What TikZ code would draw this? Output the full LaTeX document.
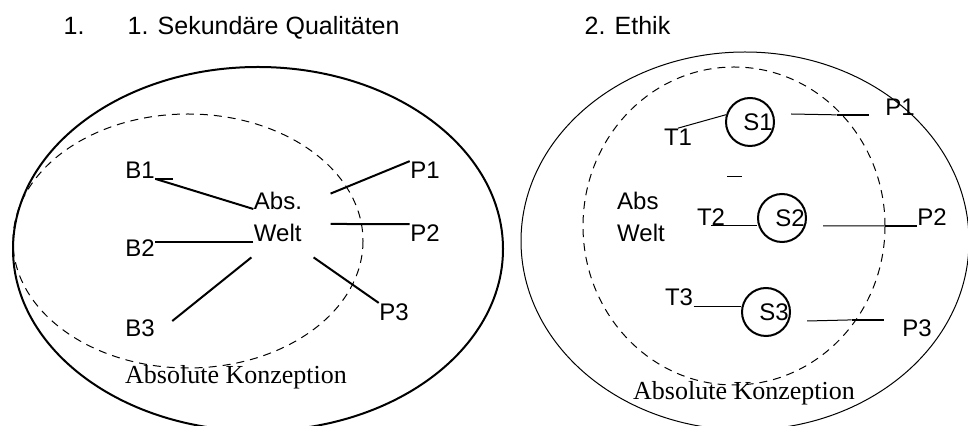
\documentclass[tikz,border=0pt]{standalone}
\usepackage{fontspec}
\setmainfont{Liberation Sans}
\newfontfamily\konzfont{Liberation Serif}
\usetikzlibrary{positioning}

\begin{document}
\begin{tikzpicture}[x=0.5pt, y=-0.5pt, semithick,
    lbl/.style={inner sep=0pt, font=\fontsize{12}{16}\selectfont},
    titel/.style={inner sep=0pt, anchor=base west, font=\fontsize{12.5}{16}\selectfont},
    konz/.style={inner sep=0pt, font=\konzfont\fontsize{13}{16}\selectfont},
    fat/.style={line width=1pt},
    fine/.style={line width=0.5pt},
    dashring/.style={line width=0.5pt, dash pattern=on 4pt off 3pt},
    sk/.style={circle, draw, line width=1pt, minimum size=24pt, inner sep=0pt}]
    \useasboundingbox (0,0) rectangle (968,426);
    \clip (0,0) rectangle (968,426);

    % --- TITLES ---
    \node[titel] (nr)  at (63,35)  {1.};
    \node[titel] (sek) at (127,35) {1. Sekundäre Qualitäten};
    \node[titel] (eth) at (584,35) {2. Ethik};

    % --- LEFT: Sekundaere Qualitaeten ---
    \draw[fat] (258,249) ellipse [x radius=245, y radius=182];
    \draw[dashring] (188,241) ellipse [x radius=175, y radius=127];

    \node[lbl, align=left] (aw) at (278,217) {Abs.\\Welt};
    \node[lbl] (b1)  at (140,170) {B1};
    \node[lbl] (b2)  at (140,248) {B2};
    \node[lbl] (b3)  at (140,328) {B3};
    \node[lbl] (pl1) at (425,170) {P1};
    \node[lbl] (pl2) at (425,233) {P2};
    \node[lbl] (pl3) at (394,312) {P3};
    \node[konz] (kl) at (236,377) {Absolute Konzeption};

    \draw[fat] (b1.south east) -- (aw.162);
    \draw[fat] (b1.south east) -- ++(18,0);
    \draw[fat] (aw.south west) -- (aw.south west -| b2.east);
    \draw[fat] ([shift={(17,-7)}]b3.east) -- ([shift={(-2,15)}]aw.south west);
    \draw[fat] ([shift={(28,2)}]aw.north east) -- (pl1.north west);
    \draw[fat] ([shift={(28,7)}]aw.east) -- (pl2.north west);
    \draw[fat] ([shift={(11,15)}]aw.south east) -- (pl3.north west);

    % --- RIGHT: Ethik ---
    \draw[fine] (745,241) ellipse [x radius=224, y radius=189];
    \draw[dashring] (734,226) ellipse [x radius=151, y radius=159];

    \node[sk, label={[lbl, xshift=4pt]center:S1}] (s1) at (750,122) {};
    \node[sk, label={[lbl, xshift=4pt]center:S2}] (s2) at (782,218) {};
    \node[sk, label={[lbl, xshift=4pt]center:S3}] (s3) at (766,312) {};
    \node[lbl, align=left] (awr) at (641,217) {Abs\\Welt};
    \node[lbl] (t1)  at (678,137) {T1};
    \node[lbl] (t2)  at (711,217) {T2};
    \node[lbl] (t3)  at (679,297) {T3};
    \node[lbl] (pr1) at (900,107) {P1};
    \node[lbl] (pr2) at (932,217) {P2};
    \node[lbl] (pr3) at (917,328) {P3};
    \node[konz] (kr) at (744,393) {Absolute Konzeption};

    \draw[fine] (t1.north) -- (s1.163);
    \draw[fine] (t2.south) -- (t2.south -| s2.west);
    \draw[fine] (t3.south east) -- (t3.south east -| s3.west);
    \draw[fine] (727,177) -- ++(15,0); % stray mark

    \draw[fine] ([shift={(16,-8)}]s1.east) -- ([shift={(-48,-1)}]pr1.south west);
    \draw[fat]  ([shift={(-48,-1)}]pr1.south west) -- ([shift={(-16,-1)}]pr1.south west);
    \draw[fine] ([shift={(16,8)}]s2.east) -- ([shift={(-32,0)}]pr2.south west);
    \draw[fat]  ([shift={(-32,0)}]pr2.south west) -- (pr2.south west);
    \draw[fine] ([shift={(16,9)}]s3.east) -- ([shift={(-50,1)}]pr3.north west);
    \draw[fat]  ([shift={(-50,1)}]pr3.north west) -- ([shift={(-18,1)}]pr3.north west);

\end{tikzpicture}
\end{document}
